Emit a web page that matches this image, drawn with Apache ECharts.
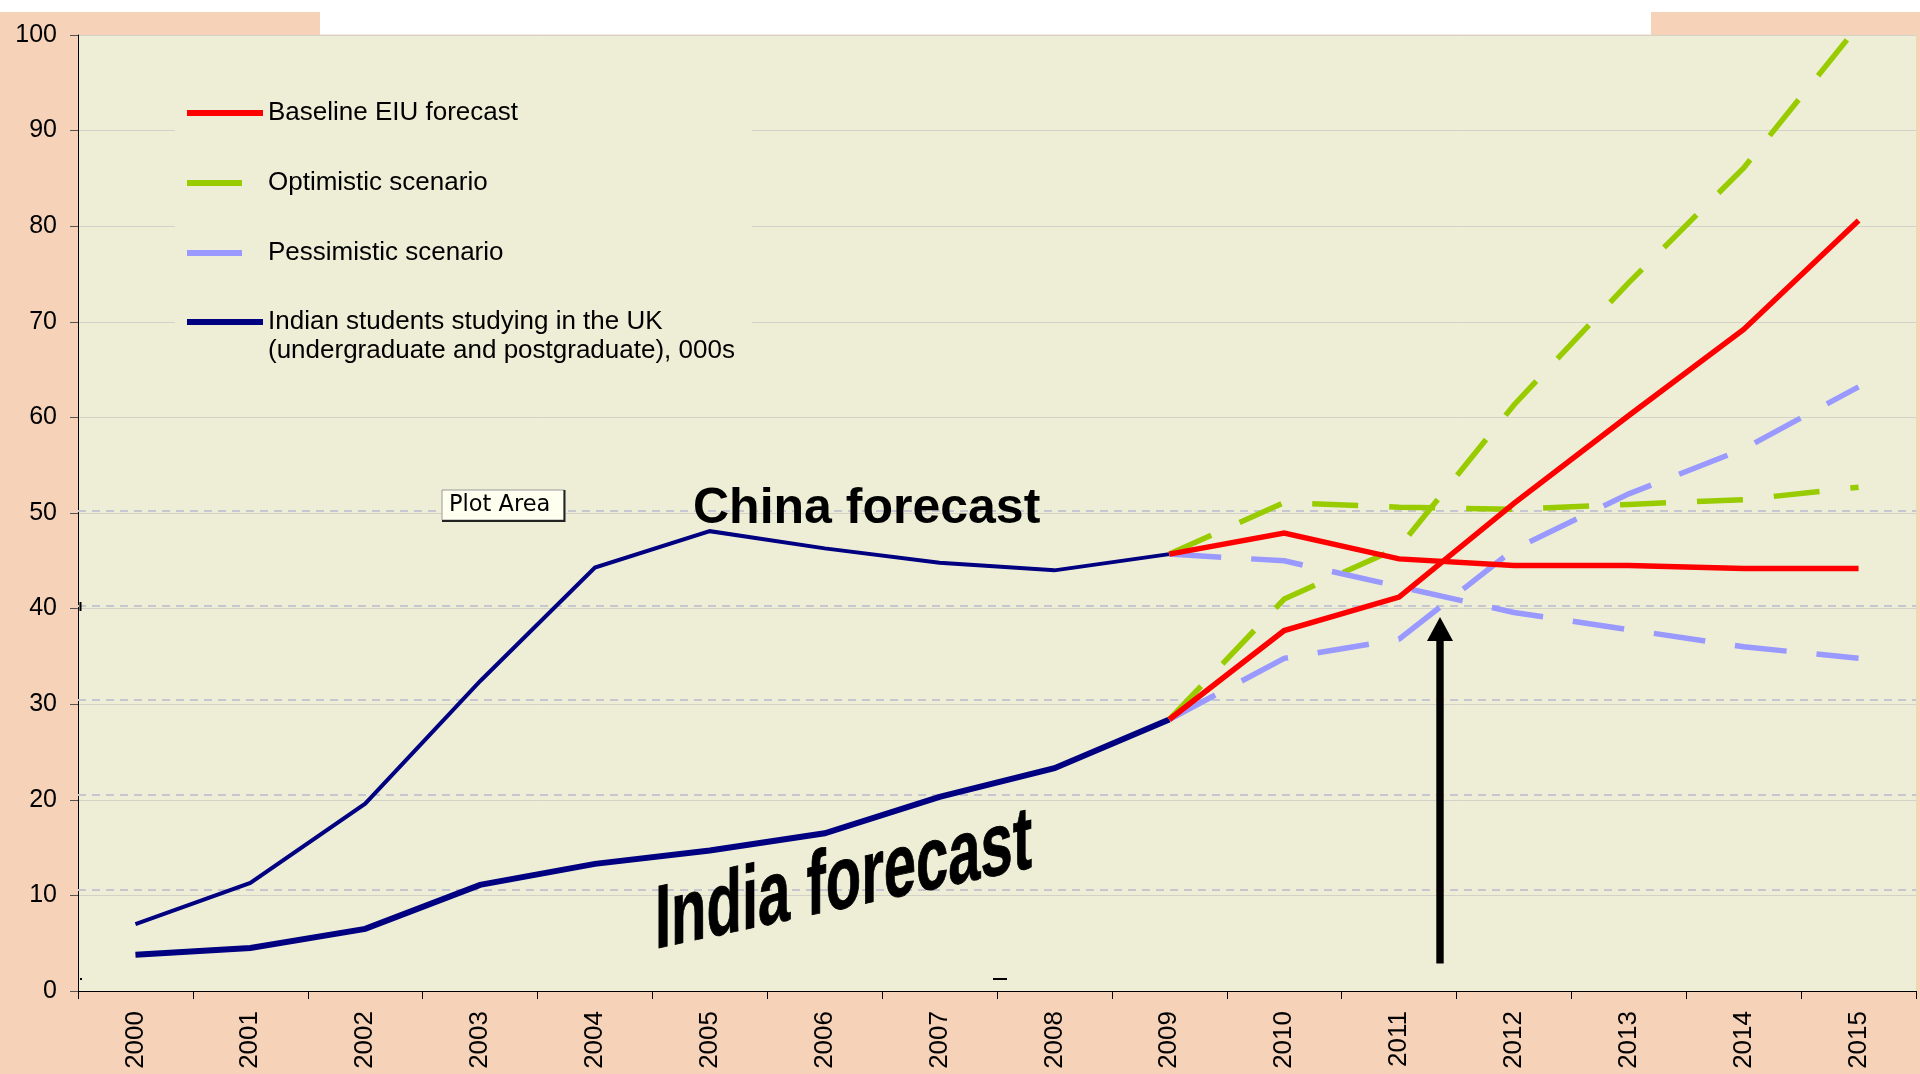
<!DOCTYPE html>
<html>
<head>
<meta charset="utf-8">
<script src="https://cdn.jsdelivr.net/npm/echarts@6/dist/echarts.min.js"></script>
<style>
html,body{margin:0;padding:0;background:#fff;}
#chart{width:1920px;height:1074px;}
</style>
</head>
<body>
<div id="chart"></div>
<script>
// ---------- data ----------
const categories = ['2000','2001','2002','2003','2004','2005','2006','2007','2008','2009','2010','2011','2012','2013','2014','2015'];
const indiaStudents    = [3.8, 4.5, 6.5, 11.1, 13.3, 14.7, 16.5, 20.3, 23.3, 28.4, null, null, null, null, null, null];
const chinaStudents    = [7.0, 11.3, 19.6, 32.4, 44.3, 48.1, 46.3, 44.8, 44.0, 45.7, null, null, null, null, null, null];
const indiaBaseline    = [null, null, null, null, null, null, null, null, null, 28.4, 37.7, 41.2, 51.0, 60.2, 69.2, 80.6];
const indiaOptimistic  = [null, null, null, null, null, null, null, null, null, 28.4, 41.0, 46.4, 61.3, 74.1, 86.1, 101.0];
const indiaPessimistic = [null, null, null, null, null, null, null, null, null, 28.4, 34.8, 36.8, 46.2, 52.0, 56.7, 63.2];
const chinaBaseline    = [null, null, null, null, null, null, null, null, null, 45.7, 47.9, 45.2, 44.5, 44.5, 44.2, 44.2];
const chinaOptimistic  = [null, null, null, null, null, null, null, null, null, 45.7, 51.1, 50.6, 50.4, 50.9, 51.4, 52.7];
const chinaPessimistic = [null, null, null, null, null, null, null, null, null, 45.7, 45.0, 42.3, 39.6, 37.8, 36.0, 34.8];
const yMin = 0, yMax = 100, yStep = 10;

const NAME_BASE = 'Baseline EIU forecast';
const NAME_OPT = 'Optimistic scenario';
const NAME_PESS = 'Pessimistic scenario';
const NAME_STUD = 'Indian students studying in the UK (undergraduate and postgraduate), 000s';

// ---------- styles ----------
const PEACH = '#F5D2B8';
const PLOT_BG = '#EEEED7';
const RED = '#FF0000', GREEN = '#99CC00', LAV = '#9999FF', NAVY = '#000080';
const FONT = 'Liberation Sans';

const chart = echarts.init(document.getElementById('chart'), null, {renderer: 'canvas'});

function line(name, data, color, width, dash, z) {
  return {
    name, type: 'line', data, symbol: 'none', showSymbol: false, z: z,
    connectNulls: false, silent: true,
    lineStyle: {color, width, type: dash || 'solid', cap: 'butt', join: 'miter'},
    itemStyle: {color},
    emphasis: {disabled: true}
  };
}

const seriesList = [
  Object.assign(line(NAME_STUD, indiaStudents, NAVY, 6, null, 2), {
    markLine: {
      silent: true, symbol: 'none', z: 1, animation: false,
      label: {show: false},
      lineStyle: {color: '#C6C6D0', width: 2, type: [8, 6]},
      data: [{yAxis: 10.6}, {yAxis: 20.5}, {yAxis: 30.45}, {yAxis: 40.35}, {yAxis: 50.2}]
    }
  }),
  line(NAME_STUD, chinaStudents, NAVY, 4, null, 2),
  line(NAME_OPT, indiaOptimistic, GREEN, 5.5, [46, 31], 3),
  line(NAME_OPT, chinaOptimistic, GREEN, 5.5, [46, 31], 3),
  line(NAME_PESS, indiaPessimistic, LAV, 5.5, [52, 30], 3),
  line(NAME_PESS, chinaPessimistic, LAV, 5.5, [52, 30], 3),
  line(NAME_BASE, indiaBaseline, RED, 5.5, null, 4),
  line(NAME_BASE, chinaBaseline, RED, 5.5, null, 4)
];

const option = {
  animation: false,
  backgroundColor: PEACH,
  textStyle: {fontFamily: FONT},
  grid: {left: 78, right: 4, top: 35, bottom: 83, show: true, backgroundColor: PLOT_BG, borderWidth: 0, containLabel: false},
  legend: [
    {
      orient: 'vertical', left: 184, top: 98.5, padding: 0,
      itemWidth: 76, itemHeight: 6, itemGap: 41,
      selectedMode: false,
      lineStyle: {width: 6},
      textStyle: {fontSize: 26, lineHeight: 29, color: '#000', fontFamily: FONT},
      data: [
        {name: NAME_BASE},
        {name: NAME_OPT, lineStyle: {width: 6, type: [55, 40]}},
        {name: NAME_PESS, lineStyle: {width: 6, type: [55, 40]}}
      ]
    },
    {
      orient: 'vertical', left: 184, top: 278.5, padding: 0,
      itemWidth: 76, itemHeight: 6,
      selectedMode: false,
      lineStyle: {width: 6},
      textStyle: {fontSize: 26, lineHeight: 29, color: '#000', fontFamily: FONT},
      formatter: function () { return '\nIndian students studying in the UK\n(undergraduate and postgraduate), 000s'; },
      data: [{name: NAME_STUD}]
    }
  ],
  xAxis: {
    type: 'category', data: categories, boundaryGap: true,
    axisLine: {show: true, lineStyle: {color: '#000', width: 1}},
    axisTick: {show: true, length: 8, interval: 0, lineStyle: {color: '#000'}},
    axisLabel: {rotate: 90, margin: 20, fontSize: 26, color: '#000', interval: 0, fontFamily: FONT},
    splitLine: {show: false}
  },
  yAxis: {
    type: 'value', min: yMin, max: yMax, interval: yStep,
    axisLine: {show: true, lineStyle: {color: '#000', width: 1}},
    axisTick: {show: true, length: 8, lineStyle: {color: '#555'}},
    axisLabel: {fontSize: 25, margin: 21, color: '#000', fontFamily: FONT},
    splitLine: {show: true, lineStyle: {color: '#D2D2C8', width: 1}}
  },
  series: seriesList,
  graphic: [
    {type: 'rect', z: 0, silent: true, shape: {x: 0, y: 0, width: 1920, height: 12}, style: {fill: '#FFFFFF'}},
    {type: 'rect', z: 0, silent: true, shape: {x: 320, y: 0, width: 1331, height: 34.5}, style: {fill: '#FFFFFF'}},
    {type: 'rect', z: 1, silent: true, shape: {x: 175, y: 60, width: 577, height: 330}, style: {fill: PLOT_BG}},
    // "Plot Area" tip box
    {type: 'rect', z: 10, silent: true, shape: {x: 442, y: 490, width: 122, height: 30}, style: {fill: '#FFFFF0', stroke: '#9A9A9A', lineWidth: 1}},
    {type: 'polyline', z: 10, silent: true, shape: {points: [[564.5, 490], [564.5, 521], [442, 521]]}, style: {stroke: '#222', lineWidth: 2, fill: null}},
    {type: 'text', z: 10, silent: true, x: 449, y: 505, style: {text: 'Plot Area', font: '22.5px "DejaVu Sans"', fill: '#000', verticalAlign: 'middle', align: 'left'}},
    // annotations
    {type: 'text', z: 10, silent: true, x: 693, y: 509.5, style: {text: 'China forecast', font: 'bold 50px "Liberation Sans"', fill: '#000', verticalAlign: 'middle', align: 'left'}},
    {type: 'text', z: 10, silent: true, x: 655, y: 955, scaleX: 1.0, scaleY: 1.55, skewY: 0.2127,
      style: {text: 'India forecast', x: 0, y: -20, font: 'bold 58px "Liberation Sans"', fill: '#000', stroke: '#000', lineWidth: 0.6, verticalAlign: 'middle', align: 'left'}},
    {type: 'rect', z: 10, silent: true, shape: {x: 1436.3, y: 640, width: 7.4, height: 323.5}, style: {fill: '#000'}},
    {type: 'polygon', z: 10, silent: true, shape: {points: [[1427, 641], [1453, 641], [1440, 617]]}, style: {fill: '#000'}},
    // small stray marks
    {type: 'line', z: 10, silent: true, shape: {x1: 993, y1: 979, x2: 1007, y2: 979}, style: {stroke: '#000', lineWidth: 2}},
    {type: 'line', z: 10, silent: true, shape: {x1: 80.5, y1: 602, x2: 80.5, y2: 611}, style: {stroke: '#000', lineWidth: 2}},
    {type: 'rect', z: 10, silent: true, shape: {x: 80, y: 978, width: 2, height: 2}, style: {fill: '#000'}}
  ]
};
chart.setOption(option);
</script>
</body>
</html>
